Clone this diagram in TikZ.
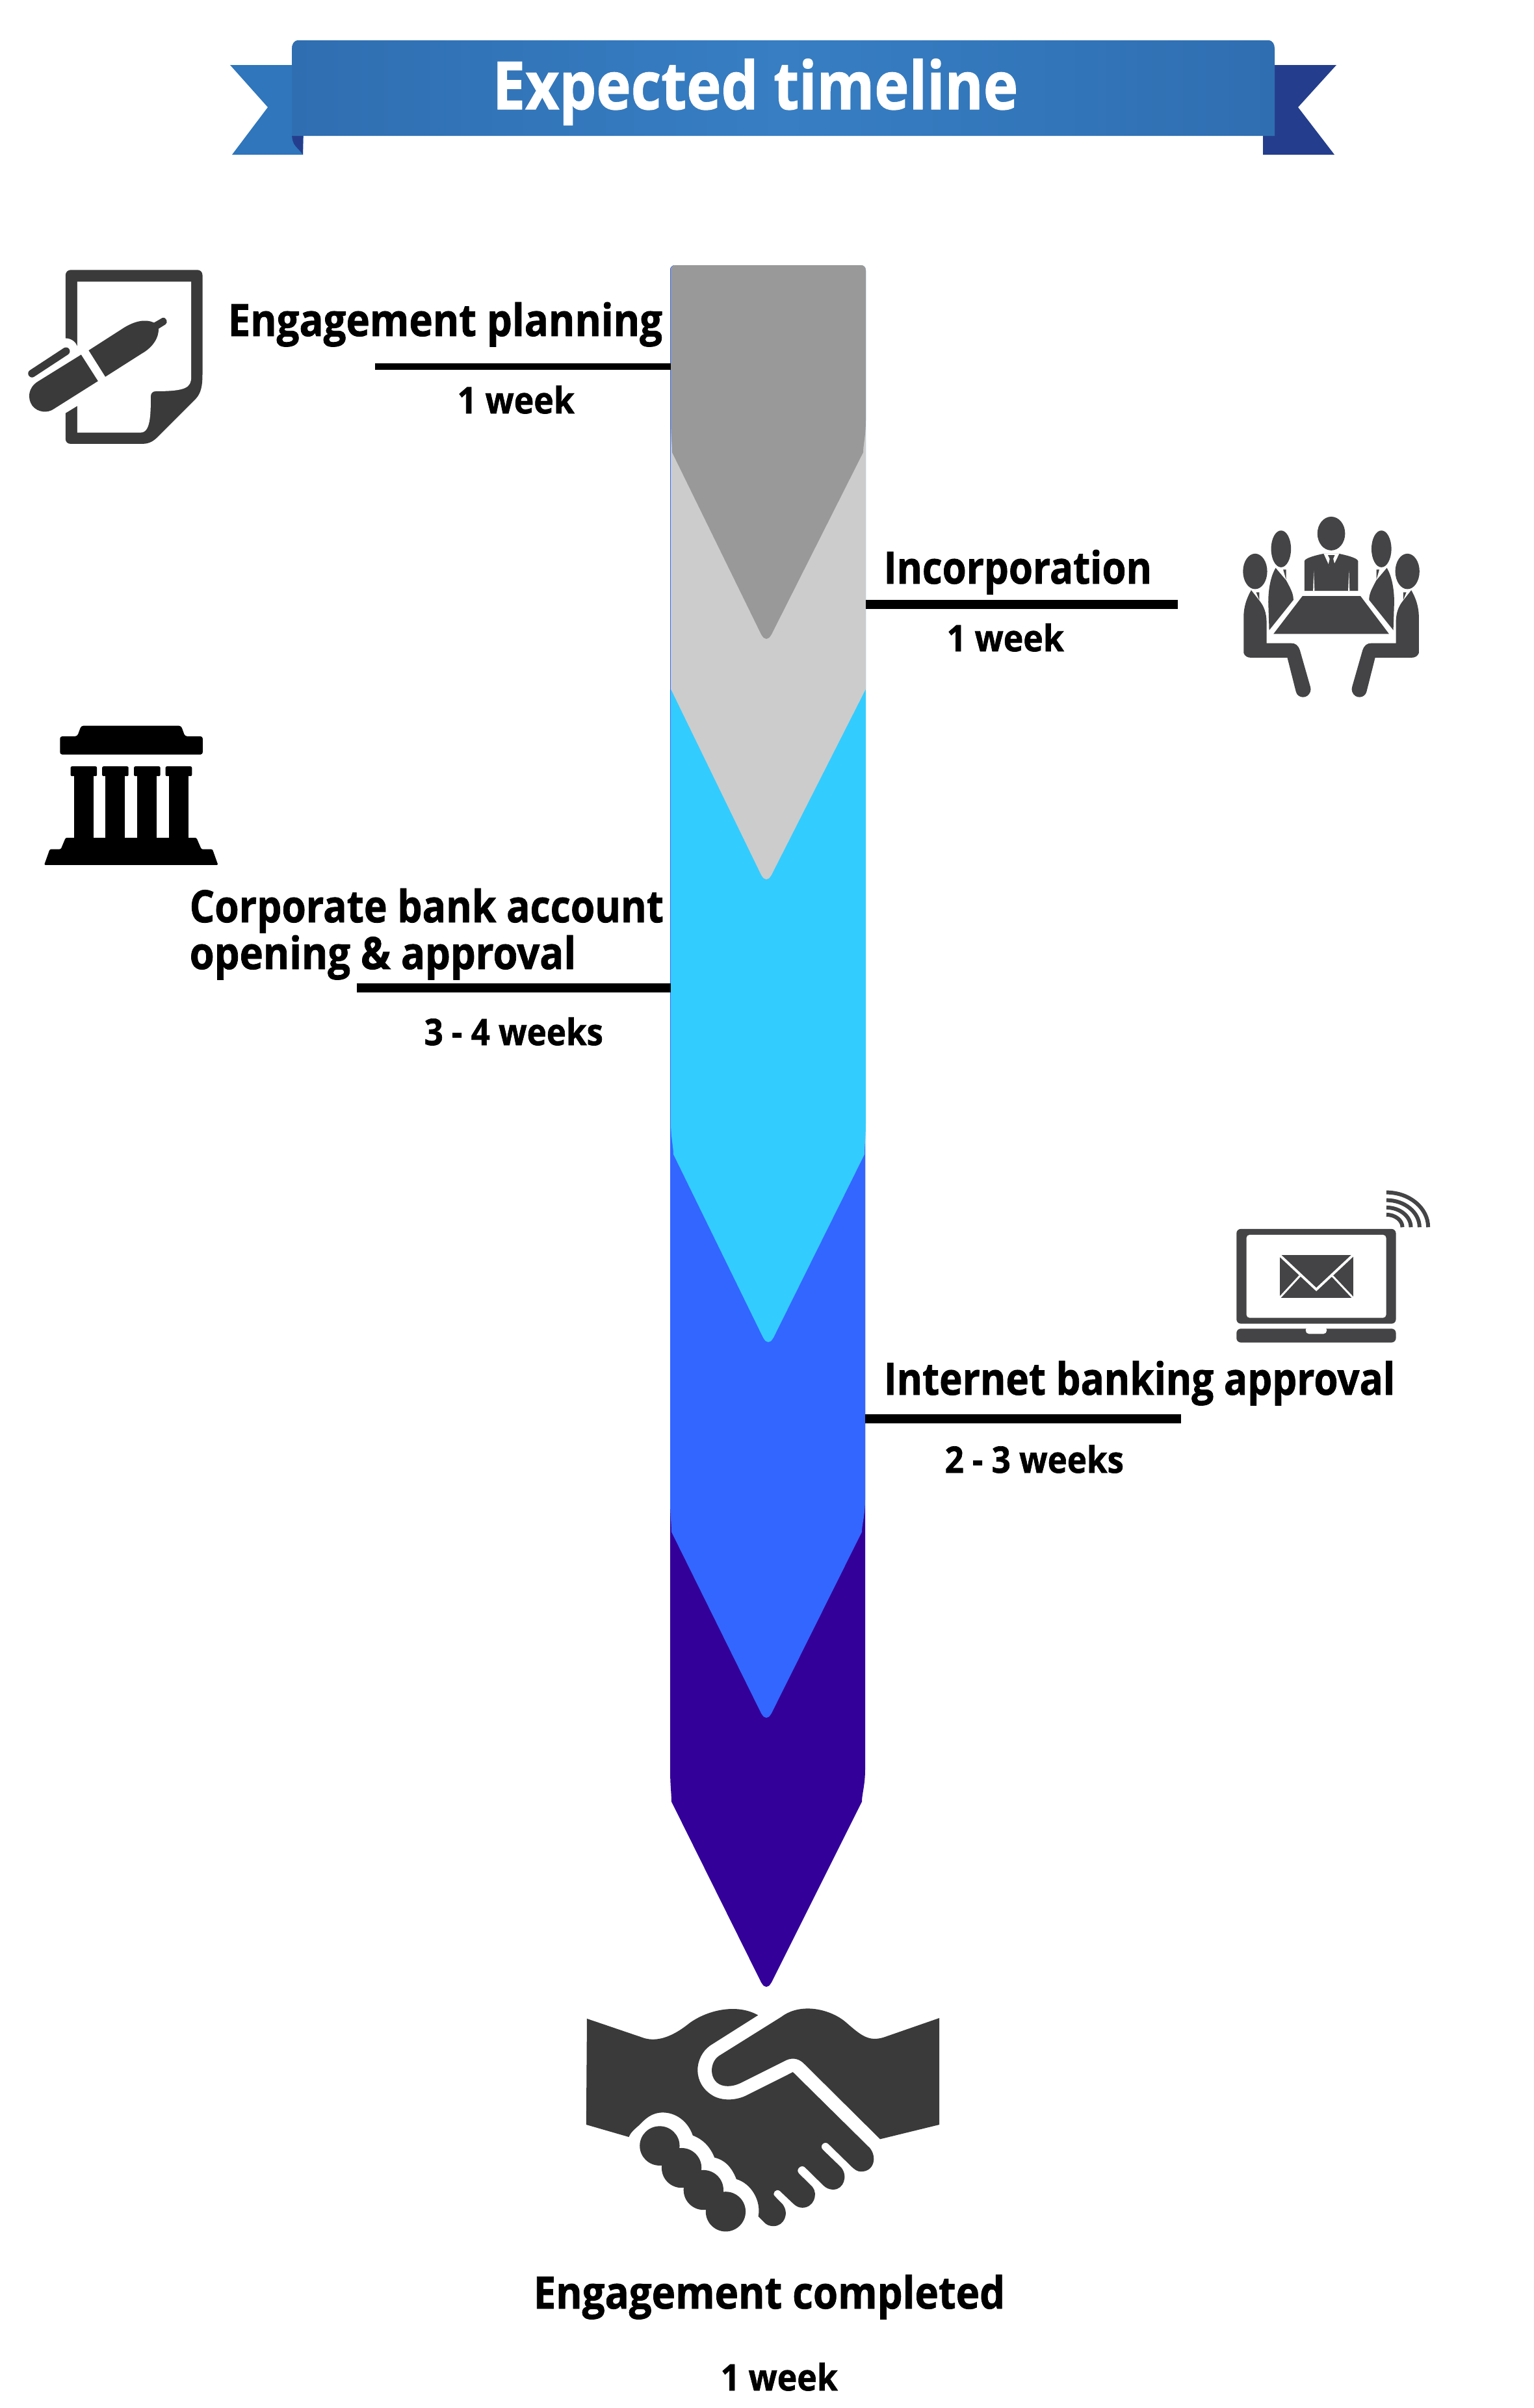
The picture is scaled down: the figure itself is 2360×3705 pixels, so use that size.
\documentclass[tikz,border=0pt]{standalone}
\usepackage{graphicx}
\usepackage{fontspec}
\setmainfont{Open Sans}[BoldFeatures={FakeBold=1.2}]
\definecolor{iconA}{HTML}{3A3A3A}
\definecolor{iconB}{HTML}{444345}
\definecolor{lay1}{HTML}{999999}
\definecolor{lay2}{HTML}{CCCCCC}
\definecolor{lay3}{HTML}{33CCFF}
\definecolor{lay4}{HTML}{3366FF}
\definecolor{lay5}{HTML}{330099}
\definecolor{banEdge}{HTML}{2F6EB1}
\definecolor{banMid}{HTML}{377EC3}
\definecolor{tailL}{HTML}{2F76BC}
\definecolor{tailR}{HTML}{243E8D}
\newcommand{\fitw}[2]{\resizebox{#1}{\height}{#2}}
% colour, left, right, bottom-left x, bottom-right x, side end y, tip x, tip y
\newcommand{\layerfill}[8]{%
  \fill[#1] (#2,416) .. controls (#2,411) and (#2+3,408) .. (#2+8,408) -- (#3-8,408)
    .. controls (#3-3,408) and (#3,411) .. (#3,416) -- (#3,#6-50)
    .. controls (#3,#6-25) and (#5,#6-12) .. (#5,#6)
    -- (#7+8,#8-7) .. controls (#7+5,#8-2) and (#7+3,#8) .. (#7,#8)
    .. controls (#7-3,#8) and (#7-5,#8-2) .. (#7-8,#8-7)
    -- (#4,#6) .. controls (#4,#6-12) and (#2,#6-25) .. (#2,#6-50) -- cycle;
}
\newcommand{\sidepeople}{%
  \fill (153,358) ellipse [x radius=56,y radius=82];
  \fill (273,254) ellipse [x radius=46,y radius=85];
  \fill (248,342) .. controls (225,380) and (214,440) .. (214,500) -- (218,630) -- (330,490)
     .. controls (330,460) and (318,440) .. (297,400) -- cycle;
  \fill (283,350) -- (296,350) -- (296,395) -- cycle;
  \fill (135,445) .. controls (115,480) and (100,520) .. (100,570) -- (100,735)
     .. controls (105,750) and (118,757) .. (135,757) -- (302,757) -- (342,915)
     .. controls (350,945) and (395,950) .. (408,915) .. controls (412,905) and (410,900) .. (408,890)
     -- (360,722) .. controls (352,700) and (340,690) .. (320,690) -- (206,690) -- (206,590)
     .. controls (205,550) and (195,520) .. (172,492) -- cycle;
  \fill (158,455) -- (172,455) -- (172,490) -- cycle;
}
\tikzset{
  lbl/.style={font=\fontsize{19.5pt}{22pt}\selectfont\bfseries, text=black, inner sep=0pt, anchor=base west},
  dur/.style={font=\fontsize{16pt}{18pt}\selectfont\bfseries, text=black, inner sep=0pt, anchor=base west},
  ttl/.style={font=\fontsize{29pt}{32pt}\selectfont\bfseries, text=white, inner sep=0pt, anchor=base west},
  rule/.style={draw=black, line width=#1, line cap=butt},
}
\begin{document}
\begin{tikzpicture}[x=0.01cm,y=-0.01cm]
\useasboundingbox (0,0) rectangle (2360,3705);
\fill[white] (0,0) rectangle (2360,3705);

% banner
\fill[tailL] (354,100) -- (470,100) -- (466,238) -- (357,238) -- (412,165) -- cycle;
\fill[tailR] (449,205) -- (466,205) -- (466,238) .. controls (457,225) and (449,225) .. (449,205) -- cycle;
\fill[tailR] (1943,100) -- (2056,100) -- (1997,165) -- (2053,238) -- (1943,238) -- cycle;
\shade[left color=banEdge,right color=banEdge,middle color=banMid]
  (449,209) -- (449,75) .. controls (449,68) and (452,62) .. (459,62) -- (1951,62)
  .. controls (1958,62) and (1961,68) .. (1961,75) -- (1961,209) -- cycle;
\node[ttl] (title) at (757,168) {\fitw{8.08cm}{Expected timeline}};

% stack
\layerfill{lay5}{1031}{1331}{1033}{1326}{2772}{1179}{3057}
\layerfill{lay4}{1031}{1331}{1033}{1326}{2357}{1179}{2643}
\layerfill{lay3}{1032}{1332}{1036}{1330}{1776}{1182}{2065}
\layerfill{lay2}{1032}{1332}{1032}{1332}{1060}{1179}{1353}
\layerfill{lay1}{1032}{1332}{1034}{1328}{696}{1179}{983}

% labels and rules
\coordinate (stackL1) at (1032,564);
\coordinate (endL1) at (577,564);
\coordinate (stackR1) at (1332,930);
\coordinate (endR1) at (1812,930);
\coordinate (stackL2) at (1032,1520);
\coordinate (endL2) at (549,1520);
\coordinate (stackR2) at (1331,2183);
\coordinate (endR2) at (1817,2183);
\draw[rule=2.6pt] (stackL1) -- (endL1);
\draw[rule=4.2pt] (stackR1) -- (endR1);
\draw[rule=4.2pt] (stackL2) -- (endL2);
\draw[rule=4.2pt] (stackR2) -- (endR2);

\node[lbl] (planT) at (350,517) {\fitw{6.68cm}{Engagement planning}};
\node[dur] (planD) at (703,636) {\fitw{1.80cm}{1 week}};
\node[lbl] (incT) at (1359,898) {\fitw{4.12cm}{Incorporation}};
\node[dur] (incD) at (1456,1002) {\fitw{1.80cm}{1 week}};
\node[lbl] (bankT) at (291,1419) {\fitw{7.29cm}{Corporate bank account}};
\node[lbl] (bankU) at (291,1491) {\fitw{5.94cm}{opening \& approval}};
\node[dur] (bankD) at (652,1608) {\fitw{2.75cm}{3 - 4 weeks}};
\node[lbl] (netT) at (1359,2146) {\fitw{7.86cm}{Internet banking approval}};
\node[dur] (netD) at (1453,2266) {\fitw{2.75cm}{2 - 3 weeks}};
\node[lbl] (doneT) at (820,3552) {\fitw{7.25cm}{Engagement completed}};
\node[dur] (doneD) at (1108,3678) {\fitw{1.80cm}{1 week}};

% document + pen icon
\begin{scope}[shift={(0,380)},x=0.003333cm,y=-0.003333cm]
  \fill[iconA] (303,130) .. controls (303,115) and (315,106) .. (328,106) -- (912,106)
    .. controls (925,106) and (936,115) .. (936,130) -- (936,590)
    .. controls (936,640) and (930,675) .. (905,702) -- (735,872)
    .. controls (712,897) and (690,910) .. (660,910) -- (325,910)
    .. controls (312,910) and (303,900) .. (303,888) -- cycle;
  \fill[white] (357,160) -- (884,160) -- (884,600) .. controls (884,650) and (860,667) .. (720,667)
    .. controls (705,667) and (697,677) .. (697,690) .. controls (697,780) and (695,858) .. (650,858)
    -- (357,858) -- cycle;
  \fill[white] (295,422) -- (303,422) .. controls (330,422) and (350,440) .. (357,458)
    -- (357,735) -- (303,768) -- (295,768) -- cycle;
  \draw[iconA,line width=3.4pt,line cap=round] (148,585) -- (305,482);
  \fill[iconA] (375,498) -- (175,622) .. controls (130,650) and (125,700) .. (150,735)
    .. controls (175,765) and (220,770) .. (250,748) -- (453,620) -- cycle;
  \fill[iconA] (410,478) -- (575,372) .. controls (620,345) and (670,330) .. (712,350) -- (750,328)
    .. controls (770,322) and (778,350) .. (765,358) -- (733,378)
    .. controls (735,420) and (705,465) .. (655,493) -- (487,600) -- cycle;
\end{scope}

% meeting icon
\begin{scope}[shift={(1880,760)},x=0.003333cm,y=-0.003333cm,fill=iconB]
  \fill (505,183) ellipse [x radius=64,y radius=78];
  \fill (381,448) -- (381,310) .. controls (385,295) and (440,282) .. (470,276) -- (540,276)
    .. controls (570,282) and (625,295) .. (629,310) -- (629,448) -- cycle;
  \fill[white] (470,276) -- (497,335) -- (505,300) -- (513,335) -- (542,276) -- cycle;
  \fill (490,283) -- (521,283) -- (514,300) -- (522,330) -- (506,340) -- (491,330) -- (498,300) -- cycle;
  \fill[white] (424,355) -- (421,449) -- (428,449) -- cycle;
  \fill[white] (587,355) -- (583,449) -- (590,449) -- cycle;
  \fill (372,472) -- (640,472) -- (772,647) -- (238,647) -- cycle;
  \sidepeople
  \begin{scope}[shift={(1010,0)},xscale=-1]
    \sidepeople
  \end{scope}
\end{scope}

% bank icon
\begin{scope}[shift={(40,1090)},x=0.003333cm,y=-0.003333cm,fill=black]
  \fill[rounded corners=1pt] (157,129) -- (237,129) -- (255,80) -- (717,80) -- (735,129) -- (817,129) -- (817,213) -- (157,213) -- cycle;
  \foreach \cx in {0,146,293,439}{
    \fill[rounded corners=0.6pt,shift={(\cx,0)}] (206,268) rectangle (328,313);
    \fill[shift={(\cx,0)}] (222,310) rectangle (312,610);
  }
  \fill[rounded corners=0.6pt] (183,598) -- (788,598) -- (811,651) -- (862,651) -- (888,724) -- (84,724) -- (110,651) -- (161,651) -- cycle;
\end{scope}

% laptop icon
\begin{scope}[shift={(1870,1800)},x=0.003333cm,y=-0.003333cm,fill=iconB]
  \fill[rounded corners=1.9pt] (97,273) rectangle (834,711);
  \fill[white,rounded corners=1.4pt] (143,300) rectangle (789,684);
  \fill[rounded corners=1.9pt] (97,734) rectangle (834,798);
  \fill[white,rounded corners=1.4pt] (417,725) rectangle (514,758);
  \fill (296,394) rectangle (636,592);
  \draw[white,line width=1.1pt] (290,388) -- (466,553) -- (642,388);
  \draw[white,line width=0.85pt] (292,596) -- (390,490);
  \draw[white,line width=0.85pt] (640,596) -- (540,490);
  \foreach \rx/\ry in {193/161,153/125,113/91,74/58}{
    \draw[iconB,line width=1.7pt] (790,265-\ry) .. controls (790+0.55*\rx,265-\ry) and (790+\rx,265-0.55*\ry) .. (790+\rx,265);
  }
\end{scope}

% handshake icon
\begin{scope}[shift={(880,3060)},x=0.003827cm,y=-0.003333cm,fill=iconA]
  \fill (60,138) -- (290,228) .. controls (340,245) and (400,225) .. (470,160)
    .. controls (540,100) and (660,65) .. (747,122) -- (555,262)
    .. controls (490,315) and (480,440) .. (570,497) .. controls (610,520) and (665,515) .. (705,490)
    -- (887,385) -- (1195,735) .. controls (1225,775) and (1215,845) .. (1160,845)
    .. controls (1145,845) and (1135,835) .. (1125,825) -- (1030,718)
    .. controls (1015,700) and (990,725) .. (1008,745) -- (1080,825)
    .. controls (1110,865) and (1090,928) .. (1050,928) .. controls (1030,928) and (1020,920) .. (1010,910)
    -- (935,825) .. controls (920,810) and (895,835) .. (912,855) -- (965,915)
    .. controls (990,950) and (970,1012) .. (925,1012) .. controls (910,1012) and (900,1005) .. (890,995)
    -- (835,935) .. controls (820,920) and (800,945) .. (815,960) -- (845,995)
    .. controls (875,1040) and (850,1097) .. (810,1097) .. controls (790,1097) and (780,1090) .. (770,1078)
    -- (748,1052) .. controls (760,980) and (720,900) .. (660,880) .. controls (640,820) and (610,790) .. (572,780)
    .. controls (555,730) and (525,695) .. (485,678) .. controls (465,610) and (415,572) .. (365,572)
    .. controls (320,572) and (295,600) .. (270,630) .. controls (250,650) and (235,665) .. (228,685)
    -- (57,628) -- cycle;
  \fill (1475,135) -- (1250,225) .. controls (1190,245) and (1160,215) .. (1100,155)
    .. controls (1040,95) and (920,60) .. (840,130) -- (590,310)
    .. controls (545,345) and (550,450) .. (625,450) .. controls (650,450) and (670,440) .. (690,428)
    -- (860,330) .. controls (890,315) and (915,325) .. (935,350) -- (1237,695) -- (1475,628) -- cycle;
  \fill (352,726) ellipse [x radius=80,y radius=91];
  \fill (440,828) ellipse [x radius=80,y radius=92];
  \fill (528,930) ellipse [x radius=80,y radius=92];
  \fill (617,1030) ellipse [x radius=80,y radius=92];
\end{scope}
\end{tikzpicture}
\end{document}
